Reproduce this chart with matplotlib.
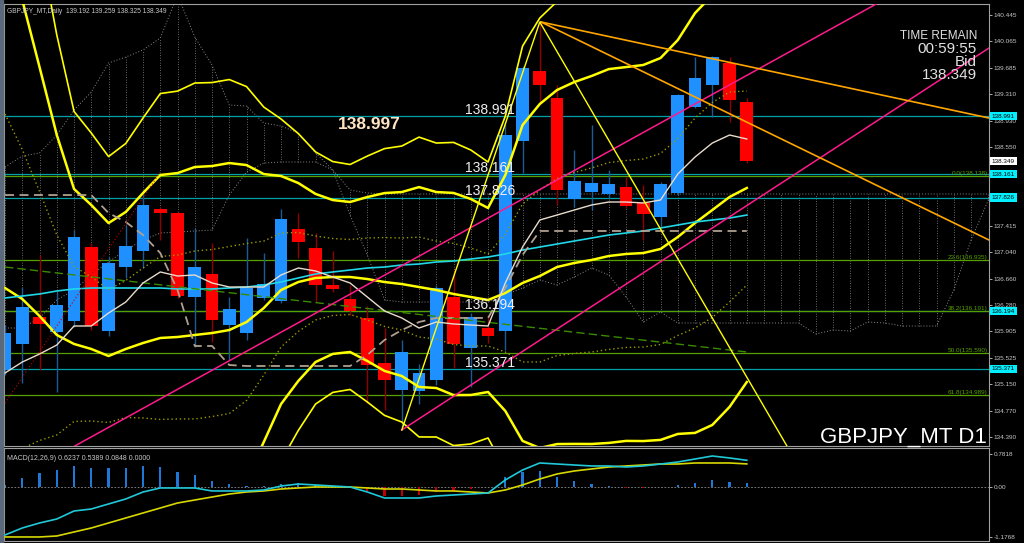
import matplotlib
matplotlib.use('Agg')
import matplotlib.pyplot as plt
import matplotlib.transforms as mtransforms
import numpy as np

plt.rcParams['font.family'] = ['Liberation Sans', 'DejaVu Sans']

# GBPJPY daily candles (oldest -> newest)
opens = [135.352, 135.725, 136.112, 135.897, 136.055, 137.116, 135.911, 136.830, 137.059, 137.662,
         137.604, 136.399, 136.729, 135.997, 135.883, 136.385, 136.342, 137.375, 137.102, 136.571,
         136.370, 136.098, 135.452, 135.065, 135.051, 135.208, 136.399, 135.667, 135.954, 135.911,
         138.637, 139.642, 139.254, 137.805, 137.906, 137.877, 137.977, 137.748, 137.547, 137.891,
         139.125, 139.441, 139.756, 139.192]
highs = [135.997, 136.543, 137.002, 136.471, 137.360, 137.174, 136.973, 137.432, 137.863, 137.690,
         137.633, 137.389, 137.174, 136.399, 137.246, 137.030, 137.662, 137.604, 137.317, 137.059,
         136.571, 136.270, 135.954, 135.782, 135.438, 136.571, 136.787, 136.170, 136.141, 138.910,
         139.713, 140.345, 139.441, 138.508, 138.867, 138.221, 138.121, 138.006, 138.049, 139.312,
         139.842, 139.857, 139.842, 139.259]
lows = [135.280, 135.165, 135.352, 135.036, 135.969, 135.926, 135.840, 136.672, 136.815, 137.217,
        136.385, 135.682, 135.754, 135.495, 135.782, 136.356, 136.313, 136.959, 136.327, 136.471,
        136.141, 134.878, 134.778, 134.491, 134.864, 135.137, 135.381, 135.108, 135.739, 135.639,
        138.178, 139.197, 137.719, 137.690, 137.647, 137.819, 137.676, 137.217, 137.403, 137.863,
        139.111, 138.982, 138.910, 138.325]
closes = [135.883, 136.256, 136.012, 136.284, 137.260, 135.983, 136.887, 137.131, 137.719, 137.604,
          136.413, 136.830, 136.069, 136.227, 136.528, 136.586, 137.518, 137.188, 136.571, 136.514,
          136.198, 135.424, 135.208, 135.610, 135.309, 136.528, 135.725, 136.112, 135.840, 138.723,
          139.685, 139.441, 137.934, 138.063, 138.035, 138.020, 137.705, 137.590, 138.020, 139.297,
          139.541, 139.842, 139.225, 138.349]

# indicators
ma_long = [136.385, 136.413, 136.442, 136.485, 136.514, 136.528, 136.528, 136.528, 136.528, 136.528,
           136.514, 136.514, 136.514, 136.528, 136.542, 136.571, 136.614, 136.672, 136.729, 136.758,
           136.786, 136.815, 136.829, 136.858, 136.872, 136.901, 136.915, 136.944, 136.973, 137.016,
           137.073, 137.116, 137.159, 137.202, 137.245, 137.288, 137.317, 137.346, 137.389, 137.432,
           137.475, 137.504, 137.532, 137.575]
tenkan = [135.309, 135.466, 135.581, 135.710, 135.983, 135.983, 136.169, 136.327, 136.600, 136.758,
          136.700, 136.715, 136.600, 136.542, 136.542, 136.542, 136.715, 136.815, 136.772, 136.686,
          136.600, 136.399, 136.198, 136.098, 135.954, 136.040, 136.012, 135.997, 135.983, 136.600,
          137.116, 137.504, 137.575, 137.647, 137.719, 137.762, 137.762, 137.748, 137.791, 138.164,
          138.408, 138.608, 138.723, 138.666]
kijun = [137.862, 137.862, 137.862, 137.862, 137.862, 137.862, 137.604, 137.475, 137.288, 137.030,
         136.499, 135.696, 135.696, 135.423, 135.409, 135.409, 135.409, 135.409, 135.409, 135.409,
         135.409, 135.567, 135.782, 135.925, 136.040, 136.098, 136.098, 136.098, 136.098, 136.528,
         137.002, 137.346, 137.346, 137.346, 137.346, 137.346, 137.346, 137.346, 137.346, 137.346,
         137.346, 137.346, 137.346, 137.346]
span_a = [138.264, 138.422, 138.465, 138.723, 139.082, 139.340, 139.756, 139.842, 139.943, 140.115,
          140.732, 140.129, 139.727, 139.154, 139.139, 138.895, 138.852, 138.752, 138.465, 138.221,
          137.575, 137.002, 136.356, 136.327, 136.327, 136.327, 136.327, 136.327, 136.327, 136.428,
          136.528, 136.643, 136.571, 136.686, 136.815, 136.715, 136.399, 136.040, 136.184, 136.026,
          136.026, 136.026, 136.026, 136.026, 136.026, 136.026, 136.026, 135.868, 135.925, 135.911,
          136.040, 136.026, 135.983, 135.983, 135.983, 136.499, 137.217, 137.791]
span_b = [135.954, 135.954, 136.098, 136.356, 136.499, 136.715, 136.901, 137.073, 137.217, 137.317,
          137.331, 137.346, 137.360, 137.862, 138.192, 138.321, 138.336, 138.336, 138.336, 138.221,
          137.934, 137.891] + [137.877] * 36
bb_mid = [136.528, 136.370, 136.126, 135.854, 135.725, 135.653, 135.552, 135.653, 135.739, 135.811,
          135.825, 135.854, 135.882, 135.925, 136.040, 136.241, 136.499, 136.614, 136.672, 136.686,
          136.686, 136.657, 136.614, 136.585, 136.542, 136.499, 136.442, 136.399, 136.356, 136.456,
          136.600, 136.700, 136.829, 136.887, 136.930, 136.987, 137.016, 137.030, 137.088, 137.260,
          137.461, 137.647, 137.834, 137.963]
bb_sigma = [2.496, 2.145, 1.786, 1.435, 1.112, 1.033, 0.954, 0.983, 1.076, 1.169,
            1.176, 1.205, 1.198, 1.198, 1.126, 0.961, 0.818, 0.710, 0.603, 0.552,
            0.538, 0.588, 0.638, 0.660, 0.717, 0.703, 0.725, 0.703, 0.660, 0.846,
            1.133, 1.234, 1.270, 1.298, 1.320, 1.341, 1.341, 1.349, 1.370, 1.413,
            1.506, 1.542, 1.506, 1.392]

macd_main = [-1.121, -0.958, -0.841, -0.748, -0.561, -0.514, -0.397, -0.280, -0.117, -0.023,
             -0.023, -0.023, -0.093, -0.093, -0.093, -0.070, 0.023, 0.070, 0.047, 0.023,
             0.0, -0.117, -0.257, -0.257, -0.257, -0.210, -0.187, -0.164, -0.140, 0.164,
             0.397, 0.561, 0.537, 0.514, 0.491, 0.491, 0.467, 0.491, 0.537, 0.584,
             0.654, 0.724, 0.678, 0.6237]
macd_signal = [-1.168, -1.168, -1.168, -1.145, -1.051, -0.958, -0.841, -0.724, -0.607, -0.491,
               -0.374, -0.304, -0.234, -0.164, -0.117, -0.093, -0.047, -0.023, 0.0, 0.0,
               0.0, -0.023, -0.047, -0.047, -0.070, -0.093, -0.093, -0.117, -0.140, -0.070,
               0.047, 0.187, 0.304, 0.374, 0.421, 0.467, 0.491, 0.514, 0.537, 0.537,
               0.561, 0.561, 0.561, 0.5389]

# drawn objects
levels = [138.991, 138.161, 137.826, 136.194, 135.371]
fib_pct = ['0.0', '23.6', '38.2', '50.0', '61.8']
fib_price = [138.138, 136.935, 136.191, 135.590, 134.989]
zigzag_x = [23, 31, 47]
zigzag_y = [134.491, 140.345, 133.55]
channel1 = [(3.94, 134.247), (43.77, 139.684)]
channel2_x = [23, 60]
channel2_y = [134.491, 140.448]
fan_x = [31.07, 60]
fan1_y = [140.345, 138.810]
fan2_y = [140.345, 136.860]
trend_green_x = [0, 43]
trend_green_y = [136.829, 135.610]
red_dot_x = [0, 9]
red_dot_y = [134.878, 138.192]

# visible right-axis ticks (two more sit under the level boxes)
price_ticks = [140.445, 140.065, 139.685, 139.310, 138.930, 138.550, 137.415,
               137.040, 136.660, 136.280, 135.905, 135.525, 135.150, 134.770, 134.390]
bid = 138.349

W, H = 1024, 543


def px_rect(x0, y0, x1, y1):
    return [x0 / W, 1 - y1 / H, (x1 - x0) / W, (y1 - y0) / H]


fig = plt.figure(figsize=(W / 100, H / 100), dpi=100, facecolor='black')
ax = fig.add_axes(px_rect(4, 4, 989, 446), facecolor='black')
mx = fig.add_axes(px_rect(4, 448, 989, 541), facecolor='black', sharex=ax)
fig.patches.append(plt.Rectangle((0, 0), 3 / W, 1, transform=fig.transFigure,
                                 color='#5a6a7a', zorder=0))

idx = np.arange(len(closes))
fut = np.arange(len(span_a))
o, h, l, c = map(np.array, (opens, highs, lows, closes))

# ichimoku cloud (dotted, hatched)
sa, sb = np.array(span_a), np.array(span_b)
dot = (0, (1, 2))
ax.plot(fut, sa, color='#8a8a8a', ls=dot, lw=0.7, zorder=1)
ax.plot(fut, sb, color='#8a8a8a', ls=dot, lw=0.7, zorder=1)
ax.vlines(fut, np.minimum(sa, sb), np.maximum(sa, sb), colors='#8a8a8a',
          linestyles=dot, lw=0.6, zorder=1)

# horizontal levels
for v in levels:
    ax.axhline(v, color='#00a0a8', lw=0.9, zorder=1.5)
for v in fib_price:
    ax.axhline(v, color='#58a000', lw=0.9, zorder=1.5)

# candles
up = c >= o
for mask, body_col, wick_col in ((up, '#1e90ff', '#1c5a96'), (~up, '#ff0000', '#900000')):
    ax.vlines(idx[mask], l[mask], h[mask], color=wick_col, lw=1.0, zorder=2)
    ax.bar(idx[mask], np.maximum(np.abs(c - o), 0.02)[mask], bottom=np.minimum(o, c)[mask],
           width=0.74, color=body_col, lw=0, zorder=2.5)

# bollinger bands
mid, sd = np.array(bb_mid), np.array(bb_sigma)
ax.plot(idx, mid, color='#ffff00', lw=1.8, zorder=3)
for k in (2, -2):
    ax.plot(idx, mid + k * sd, color='#ffff00', lw=1.8, zorder=3)
for k in (3, -3):
    ax.plot(idx, mid + k * sd, color='#ffff00', lw=1.2, zorder=3)
for k in (1, -1):
    ax.plot(idx, mid + k * sd, color='#9a9a00', lw=1.0, ls=(0, (1, 2)), zorder=3)

ax.plot(idx, ma_long, color='#20d8e8', lw=1.2, zorder=3)
ax.plot(idx, kijun, color='#b0a090', lw=1.3, ls=(0, (5, 3)), zorder=3)
ax.plot(idx, tenkan, color='#e8dccc', lw=1.0, zorder=3.2)

# trend objects
ax.plot(trend_green_x, trend_green_y, color='#3a8a00', lw=1.0, ls=(0, (6, 3)), zorder=3)
ax.plot(red_dot_x, red_dot_y, color='#c00000', lw=0.8, ls=(0, (1, 2)), zorder=3)
ax.axline(channel1[0], channel1[1], color='#ff1a8c', lw=1.1, zorder=4)
ax.plot(channel2_x, channel2_y, color='#ff1a8c', lw=1.1, zorder=4)
ax.plot(fan_x, fan1_y, color='#ffa500', lw=1.2, zorder=4)
ax.plot(fan_x, fan2_y, color='#ffa500', lw=1.2, zorder=4)
ax.plot(zigzag_x, zigzag_y, color='#ffff00', lw=1.0, zorder=4)

ax.set_xlim(-0.06, 57.04)
ax.set_ylim(134.261, 140.603)

# right price axis
ax.yaxis.tick_right()
ax.set_yticks(price_ticks)
ax.set_yticklabels([f'{t:.3f}' for t in price_ticks])
ax.tick_params(axis='y', colors='#c8c8c8', labelsize=4.6, length=2, width=0.6, pad=1.5)
ax.tick_params(axis='x', bottom=False, labelbottom=False)
for a in (ax, mx):
    for s in a.spines.values():
        s.set_color('#a0a0a0')
        s.set_linewidth(0.8)

tr = mtransforms.blended_transform_factory(ax.transAxes, ax.transData)
for v in levels:
    ax.text(1.003, v, f'{v:.3f}', transform=tr, ha='left', va='center', fontsize=4.6,
            color='black', bbox=dict(boxstyle='square,pad=0.25', fc='#00f0ff', ec='none'),
            zorder=10, clip_on=False)
ax.text(1.003, bid, f'{bid:.3f}', transform=tr, ha='left', va='center', fontsize=4.6,
        color='black', bbox=dict(boxstyle='square,pad=0.25', fc='white', ec='none'),
        zorder=10, clip_on=False)

for pct, v in zip(fib_pct, fib_price):
    ax.text(0.9985, v, f'{pct}({v:.3f})', transform=tr, ha='right', va='bottom',
            fontsize=4.6, color='#58a000', zorder=6)

for v in levels:
    ax.text(26.65, v + 0.03, f'{v:.3f}', ha='left', va='baseline', fontsize=10,
            color='#f0f0f0', zorder=6)
ax.text(19.3, 138.867, '138.997', ha='left', va='center', fontsize=12.5,
        fontweight='bold', color='#ffe4c4', zorder=6)

info = [('TIME REMAIN', 0.9287, 8.5), ('00:59:55', 0.8993, 11),
        ('Bid', 0.8688, 11), (f'{bid:.3f}', 0.8394, 11)]
for txt, yf, fs in info:
    ax.text(0.9878, yf, txt, transform=ax.transAxes, ha='right', va='center',
            fontsize=fs, color='#e0e0e0', zorder=6)
ax.text(0.9975, -0.004, 'GBPJPY_MT D1', transform=ax.transAxes, ha='right', va='bottom',
        fontsize=16, color='white', zorder=6)
ax.text(0.003, 0.992, 'GBPJPY_MT,Daily  139.192 139.259 138.325 138.349',
        transform=ax.transAxes, ha='left', va='top', fontsize=4.8, color='#c8c8c8', zorder=6)

# MACD panel
mm, ms = np.array(macd_main), np.array(macd_signal)
hist = mm - ms
mx.bar(idx, hist, width=0.13, color=np.where(hist >= 0, '#1e78d8', '#c00000'), lw=0, zorder=2)
mx.axhline(0, color='#909090', lw=0.6, ls=(0, (2, 2)), zorder=1)
mx.plot(idx, ms, color='#d8d800', lw=1.2, zorder=3)
mx.plot(idx, mm, color='#20c8d8', lw=1.2, zorder=3)
mx.set_ylim(-1.262, 0.911)
mx.yaxis.tick_right()
mx.set_yticks([0.7818, 0.0, -1.1768])
mx.set_yticklabels(['0.7818', '0.00', '-1.1768'])
mx.tick_params(axis='y', colors='#c8c8c8', labelsize=4.6, length=2, width=0.6, pad=1.5)
mx.tick_params(axis='x', bottom=False, labelbottom=False)
mx.text(0.003, 0.93, 'MACD(12,26,9) 0.6237 0.5389 0.0848 0.0000', transform=mx.transAxes,
        ha='left', va='top', fontsize=5.0, color='#c8c8c8')

fig.savefig('out.png', dpi=100, facecolor='black')
